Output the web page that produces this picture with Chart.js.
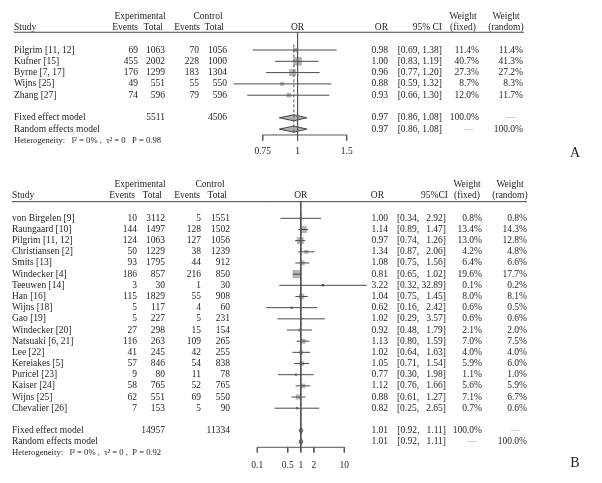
<!DOCTYPE html>
<html>
<head>
<meta charset="utf-8">
<script src="https://cdn.jsdelivr.net/npm/chart.js@4.4.1/dist/chart.umd.min.js"></script>
<style>
  html, body { margin: 0; padding: 0; background: #fff; }
  #wrap { position: relative; width: 602px; height: 483px; overflow: hidden; }
  canvas { position: absolute; left: 0; }
</style>
</head>
<body>
<div id="wrap">
  <canvas id="chartA" width="602" height="175" style="top:0px"></canvas>
  <canvas id="chartB" width="602" height="308" style="top:175px"></canvas>
</div>
<script>
// ---- Panel A data ----
const studiesA = ["Pilgrim [11, 12]", "Kufner [15]", "Byrne [7, 17]", "Wijns [25]", "Zhang [27]"];
const expEventsA = [69, 455, 176, 49, 74];
const expTotalA = [1063, 2002, 1299, 551, 596];
const ctlEventsA = [70, 228, 183, 55, 79];
const ctlTotalA = [1056, 1000, 1304, 550, 596];
const orA = [0.98, 1.00, 0.96, 0.88, 0.93];
const loA = [0.69, 0.83, 0.77, 0.59, 0.66];
const hiA = [1.38, 1.19, 1.20, 1.32, 1.30];
const wFixedA = [11.4, 40.7, 27.3, 8.7, 12.0];
const wRandomA = [11.4, 41.3, 27.2, 8.3, 11.7];
const pooledA = [0.97, 0.86, 1.08];      // OR, lower, upper (fixed and random are equal)
const totalsA = [5511, 4506];
const hetA = "Heterogeneity:   I\u00b2 = 0% ,  \u03c4\u00b2 = 0   P = 0.98";
const ticksA = [0.75, 1, 1.5];
const tickLabelsA = ["0.75", "1", "1.5"];

// ---- Panel B data ----
const studiesB = ["von Birgelen [9]", "Raungaard [10]", "Pilgrim [11, 12]", "Christiansen [2]", "Smits [13]",
  "Windecker [4]", "Teeuwen [14]", "Han [16]", "Wijns [18]", "Gao [19]", "Windecker [20]", "Natsuaki [6, 21]",
  "Lee [22]", "Kereiakes [5]", "Puricel [23]", "Kaiser [24]", "Wijns [25]", "Chevalier [26]"];
const expEventsB = [10, 144, 124, 50, 93, 186, 3, 115, 5, 5, 27, 116, 41, 57, 9, 58, 62, 7];
const expTotalB = [3112, 1497, 1063, 1229, 1795, 857, 30, 1829, 117, 227, 298, 263, 245, 846, 80, 765, 551, 153];
const ctlEventsB = [5, 128, 127, 38, 44, 216, 1, 55, 4, 5, 15, 109, 42, 54, 11, 52, 69, 5];
const ctlTotalB = [1551, 1502, 1056, 1239, 912, 850, 30, 908, 60, 231, 154, 265, 255, 838, 78, 765, 550, 90];
const orB = [1.00, 1.14, 0.97, 1.34, 1.08, 0.81, 3.22, 1.04, 0.62, 1.02, 0.92, 1.13, 1.02, 1.05, 0.77, 1.12, 0.88, 0.82];
const loB = [0.34, 0.89, 0.74, 0.87, 0.75, 0.65, 0.32, 0.75, 0.16, 0.29, 0.48, 0.80, 0.64, 0.71, 0.30, 0.76, 0.61, 0.25];
const hiB = [2.92, 1.47, 1.26, 2.06, 1.56, 1.02, 32.89, 1.45, 2.42, 3.57, 1.79, 1.59, 1.63, 1.54, 1.98, 1.66, 1.27, 2.65];
const wFixedB = [0.8, 13.4, 13.0, 4.2, 6.4, 19.6, 0.1, 8.0, 0.6, 0.6, 2.1, 7.0, 4.0, 5.9, 1.1, 5.6, 7.1, 0.7];
const wRandomB = [0.8, 14.3, 12.8, 4.8, 6.6, 17.7, 0.2, 8.1, 0.5, 0.6, 2.0, 7.5, 4.0, 6.0, 1.0, 5.9, 6.7, 0.6];
const pooledB = [1.01, 0.92, 1.11];
const totalsB = [14957, 11334];
const hetB = "Heterogeneity:   I\u00b2 = 0% ,  \u03c4\u00b2 = 0 ,  P = 0.92";
const ticksB = [0.1, 0.5, 1, 2, 10];
const tickLabelsB = ["0.1", "0.5", "1", "2", "10"];

const FONT = "'Liberation Serif', 'DejaVu Serif', serif";
const TXT = '#1e1e1e';

// R pads the upper limit so the brackets line up in panel B
function fmtCI(lo, hi, wide) {
  let h = hi.toFixed(2);
  if (wide && h.length < 5) h = '  ' + h;
  return `[${lo.toFixed(2)}, ${h}]`;
}

function seg(x1, y1, x2, y2, color, width, dash) {
  return {
    data: [{x: x1, y: y1}, {x: x2, y: y2}],
    borderColor: color, borderWidth: width, borderDash: dash || [],
    pointRadius: 0, clip: false, tension: 0, fill: false
  };
}

function makePanel(id, d, lay) {
  const n = d.studies.length;
  const fixedRow = n + 1, randomRow = n + 2, hetRow = n + 3;
  const wmax = Math.max(...d.wFixed);
  const ds = [];

  // reference line at OR = 1 and pooled estimate line
  ds.push(seg(1, lay.ruleRow, 1, lay.axisRow, '#555', lay.refWidth));
  ds.push(seg(d.pooled[0], -0.5, d.pooled[0], randomRow + 0.3, '#555', 1, [3, 2]));

  // confidence intervals
  d.studies.forEach((s, i) => ds.push(seg(d.lo[i], i, d.hi[i], i, '#4a4a4a', 1)));

  // weight squares
  ds.push({
    data: d.or.map((v, i) => ({x: v, y: i})),
    showLine: false, pointStyle: 'rect', clip: false,
    pointRadius: d.wFixed.map(w => lay.maxSide * Math.sqrt(w / wmax) / Math.SQRT2),
    pointBackgroundColor: '#b5b5b5', pointBorderWidth: 0, borderColor: 'transparent'
  });
  // point estimate marks
  ds.push({
    data: d.or.map((v, i) => ({x: v, y: i})),
    showLine: false, pointStyle: 'circle', clip: false,
    pointRadius: 1.2, pointBackgroundColor: '#333', pointBorderWidth: 0, borderColor: 'transparent'
  });

  // diamonds (fixed & random)
  [fixedRow, randomRow].forEach(r => {
    const [e, lo, hi] = d.pooled;
    ds.push({
      data: [{x: lo, y: r}, {x: e, y: r - lay.dh}, {x: hi, y: r}, {x: e, y: r + lay.dh}, {x: lo, y: r}],
      borderColor: '#444', borderWidth: 1, backgroundColor: '#b0b0b0',
      fill: 'shape', pointRadius: 0, clip: false, tension: 0
    });
  });

  // x axis line and ticks
  const t0 = d.ticks[0], t1 = d.ticks[d.ticks.length - 1];
  ds.push(seg(t0, lay.axisRow, t1, lay.axisRow, '#555', 1));
  d.ticks.forEach(t => ds.push(seg(t, lay.axisRow, t, lay.axisRow + lay.tickLen, '#555', 1)));

  const textPlugin = {
    id: 'forestText',
    afterDatasetsDraw(chart) {
      const ctx = chart.ctx, xs = chart.scales.x, ys = chart.scales.y;
      const Y = r => ys.getPixelForValue(r);
      const c = lay.cols, h = lay.head;
      function t(s, x, r, align, size, color) {
        ctx.font = `${size || 9.5}px ${FONT}`;
        ctx.fillStyle = color || TXT;
        ctx.textAlign = align || 'left';
        ctx.textBaseline = 'middle';
        ctx.fillText(s, x, Y(r));
      }
      ctx.save();
      // header
      t('Experimental', h.exp, -3, 'center');
      t('Control', h.ctl, -3, 'center');
      t('Weight', h.wf, -3, 'center');
      t('Weight', h.wr, -3, 'center');
      t('Study', c.study, -2);
      t('Events', h.ee, -2, 'right');
      t('Total', h.et, -2, 'right');
      t('Events', h.ce, -2, 'right');
      t('Total', h.ct, -2, 'right');
      t('OR', xs.getPixelForValue(1), -2, 'center');
      t('OR', h.or, -2, 'right');
      t(lay.ciHead, h.ci, -2, 'right');
      t('(fixed)', h.wf, -2, 'center');
      t('(random)', h.wr, -2, 'center');
      ctx.strokeStyle = '#444';
      ctx.lineWidth = 1;
      ctx.beginPath();
      ctx.moveTo(c.study, Y(lay.ruleRow));
      ctx.lineTo(lay.ruleEnd, Y(lay.ruleRow));
      ctx.stroke();

      // study rows
      d.studies.forEach((s, i) => {
        t(s, c.study, i);
        t(String(d.expEvents[i]), c.ee, i, 'right');
        t(String(d.expTotal[i]), c.et, i, 'right');
        t(String(d.ctlEvents[i]), c.ce, i, 'right');
        t(String(d.ctlTotal[i]), c.ct, i, 'right');
        t(d.or[i].toFixed(2), c.or, i, 'right');
        t(fmtCI(d.lo[i], d.hi[i], lay.wideCI), c.ci, i, 'right');
        t(d.wFixed[i].toFixed(1) + '%', c.wf, i, 'right');
        t(d.wRandom[i].toFixed(1) + '%', c.wr, i, 'right');
      });

      // pooled rows
      const ciP = fmtCI(d.pooled[1], d.pooled[2], lay.wideCI);
      t('Fixed effect model', c.study, fixedRow);
      t(String(d.totals[0]), c.et, fixedRow, 'right');
      t(String(d.totals[1]), c.ct, fixedRow, 'right');
      t(d.pooled[0].toFixed(2), c.or, fixedRow, 'right');
      t(ciP, c.ci, fixedRow, 'right');
      t('100.0%', c.wf, fixedRow, 'right');
      t('\u2014', c.wr - 12, fixedRow, 'center', 9.5, '#aaa');
      t('Random effects model', c.study, randomRow);
      t(d.pooled[0].toFixed(2), c.or, randomRow, 'right');
      t(ciP, c.ci, randomRow, 'right');
      t('\u2014', c.wf - 10, randomRow, 'center', 9.5, '#aaa');
      t('100.0%', c.wr, randomRow, 'right');
      t(d.het, c.study, hetRow, 'left', 8.6);

      // tick labels
      d.ticks.forEach((v, i) => t(d.tickLabels[i], xs.getPixelForValue(v), lay.labelRow, 'center'));

      // panel letter
      ctx.font = `14px ${FONT}`;
      ctx.fillStyle = TXT;
      ctx.textAlign = 'center';
      ctx.textBaseline = 'middle';
      ctx.fillText(lay.letter, 575, lay.letterY);
      ctx.restore();
    }
  };

  return new Chart(document.getElementById(id), {
    type: 'line',
    data: {datasets: ds},
    options: {
      responsive: false,
      animation: false,
      events: [],
      layout: {padding: lay.padding},
      plugins: {legend: {display: false}, tooltip: {enabled: false}},
      scales: {
        x: {type: 'logarithmic', min: d.ticks[0], max: d.ticks[d.ticks.length - 1], display: false},
        y: {type: 'linear', min: 0, max: lay.yMax, reverse: true, display: false}
      }
    },
    plugins: [textPlugin]
  });
}

makePanel('chartA', {
  studies: studiesA, expEvents: expEventsA, expTotal: expTotalA, ctlEvents: ctlEventsA, ctlTotal: ctlTotalA,
  or: orA, lo: loA, hi: hiA, wFixed: wFixedA, wRandom: wRandomA, pooled: pooledA, totals: totalsA,
  het: hetA, ticks: ticksA, tickLabels: tickLabelsA
}, {
  padding: {left: 262.7, right: 255.3, top: 50, bottom: 175 - (50 + 8 * 11.3)},
  yMax: 8, ruleRow: -1.57, axisRow: 7.52, tickLen: 0.5, labelRow: 9.0,
  ruleEnd: 524, refWidth: 1, maxSide: 8.5, dh: 0.27, wideCI: false, ciHead: '95% CI',
  letter: 'A', letterY: 153,
  cols: {study: 14, ee: 138, et: 165, ce: 199, ct: 227, or: 388, ci: 442, wf: 479, wr: 523},
  head: {exp: 140, ctl: 208, ee: 138, et: 163, ce: 200, ct: 224, or: 388, ci: 442, wf: 463, wr: 506}
});

makePanel('chartB', {
  studies: studiesB, expEvents: expEventsB, expTotal: expTotalB, ctlEvents: ctlEventsB, ctlTotal: ctlTotalB,
  or: orB, lo: loB, hi: hiB, wFixed: wFixedB, wRandom: wRandomB, pooled: pooledB, totals: totalsB,
  het: hetB, ticks: ticksB, tickLabels: tickLabelsB
}, {
  padding: {left: 257.3, right: 257.7, top: 43.3, bottom: 308 - (43.3 + 21 * 11.17)},
  yMax: 21, ruleRow: -1.49, axisRow: 20.5, tickLen: 0.47, labelRow: 22.1,
  ruleEnd: 527, refWidth: 1.6, maxSide: 8.5, dh: 0.3, wideCI: true, ciHead: '95%CI',
  letter: 'B', letterY: 288,
  cols: {study: 12, ee: 137, et: 165, ce: 201, ct: 230, or: 388, ci: 446, wf: 482, wr: 527},
  head: {exp: 140, ctl: 210, ee: 135, et: 162, ce: 200, ct: 227, or: 384, ci: 448, wf: 467, wr: 510}
});
</script>
</body>
</html>
